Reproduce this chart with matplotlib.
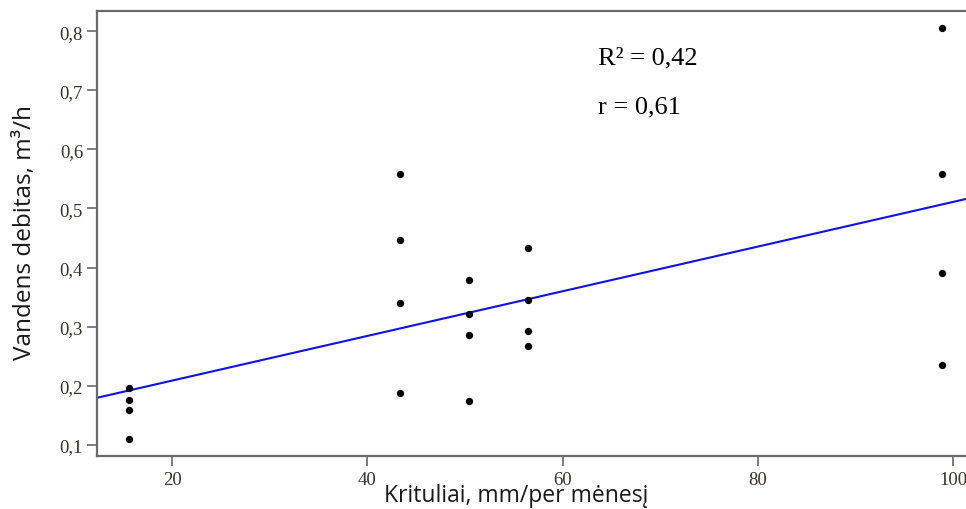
import numpy as np
import matplotlib.pyplot as plt

# precipitation (mm per month) and water yield (m3/h)
krituliai = [15.6] * 4 + [43.3] * 4 + [50.4] * 4 + [56.4] * 4 + [98.8] * 4
debitas = [0.196, 0.176, 0.160, 0.110,
           0.559, 0.447, 0.340, 0.188,
           0.379, 0.321, 0.286, 0.174,
           0.433, 0.345, 0.292, 0.267,
           0.806, 0.559, 0.391, 0.236]
x_ticks = [20, 40, 60, 80, 100]
y_ticks = [0.1, 0.2, 0.3, 0.4, 0.5, 0.6, 0.7, 0.8]

W, H = 966, 510
fig = plt.figure(figsize=(W / 100, H / 100), dpi=100)
ax = fig.add_axes([97 / W, 1 - 457 / H, 869 / W, 445 / H])

x = np.array(krituliai)
y = np.array(debitas)
slope, intercept = np.polyfit(x, y, 1)

xlim = (12.3, 101.3)
ax.set_xlim(*xlim)
ax.set_ylim(0.0814, 0.834)

xs = np.array(xlim)
ax.plot(xs, intercept + slope * xs, color="#1010f0", lw=1.5, zorder=2)
ax.scatter(x, y, s=18, color="black", zorder=3)

ax.set_xticks(x_ticks)
ax.set_yticks(y_ticks)
ax.set_yticklabels([f"{v:.1f}".replace(".", ",") for v in y_ticks])
ax.set_xticklabels([str(v) for v in x_ticks])

spine_col = "#6a6a6a"
for side in ["left", "bottom", "top"]:
    ax.spines[side].set_color(spine_col)
    ax.spines[side].set_linewidth(1.6)
ax.spines["right"].set_visible(False)

ax.tick_params(axis="both", direction="out", length=7, width=1.2,
               color=spine_col, labelcolor="#3a3328", labelsize=13.5)
for lab in ax.get_xticklabels() + ax.get_yticklabels():
    lab.set_family("Liberation Serif")
ax.tick_params(axis="x", pad=4)
ax.tick_params(axis="y", pad=3)

ax.set_ylabel("Vandens debitas, m³/h", fontsize=17.5, family="Open Sans",
              color="#1a1a1a")
ax.yaxis.set_label_coords(-72 / 869, (457 - 232) / 445)
ax.set_xlabel("Krituliai, mm/per mėnesį", fontsize=16.5, family="Open Sans",
              color="#1a1a1a")
ax.xaxis.set_label_coords((516 - 97) / 869, -(496 - 457) / 445)
ax.xaxis.label.set_va("center")
ax.yaxis.label.set_va("center")

fig.text(598 / W, 1 - 64 / H, "R² = 0,42", fontsize=19,
         family="Liberation Serif", va="baseline")
fig.text(598 / W, 1 - 113 / H, "r = 0,61", fontsize=19,
         family="Liberation Serif", va="baseline")

fig.savefig("out.png", dpi=100)
plt.close(fig)
